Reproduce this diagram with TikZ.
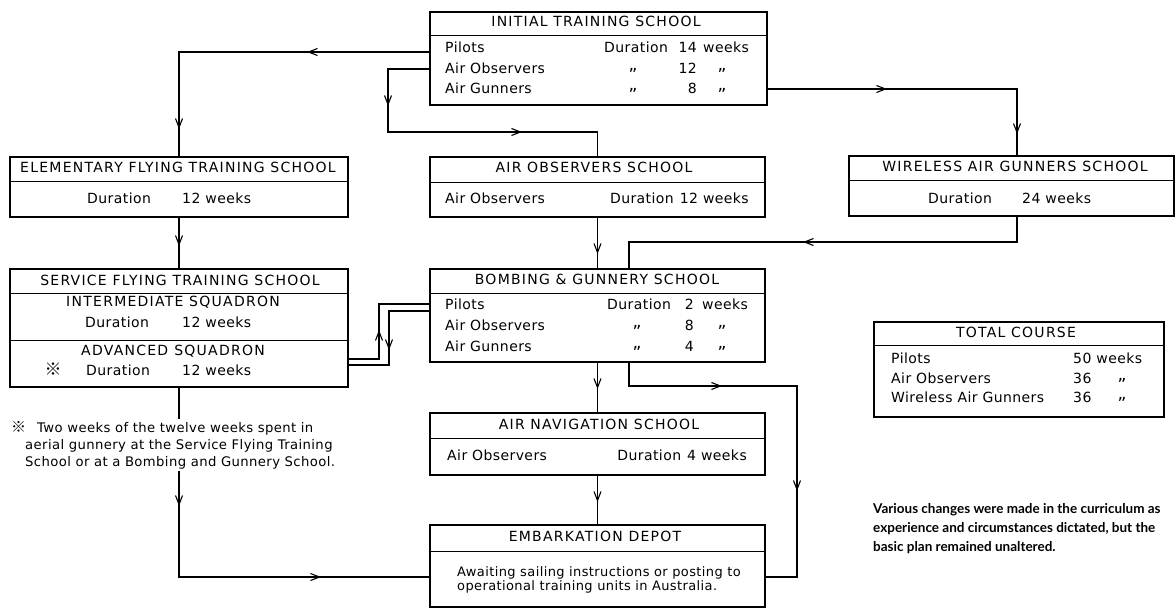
\documentclass[tikz,border=0pt]{standalone}
\usepackage{fontspec}
\setmainfont[LetterSpace=3]{DejaVu Sans}
\newfontfamily\hdfont[LetterSpace=9]{DejaVu Sans}
\newfontfamily\cjk{Noto Sans CJK JP}
\newfontfamily\notefont{Lato}
\usetikzlibrary{arrows.meta,decorations.markings}
\newcommand\dittomk{\raisebox{3pt}{\fontsize{17}{17}\selectfont „}}
\begin{document}
\begin{tikzpicture}[x=1pt,y=-1pt,
  font=\fontsize{14}{16}\selectfont,
  box/.style={draw, line width=1.4pt, anchor=north west, inner sep=0pt, outer sep=0pt},
  hl/.style={line width=0.9pt},
  conn/.style={line width=1.1pt},
  at1/.style={decoration={markings, mark=at position #1 with {\arrow{Straight Barb[length=9pt,width=7pt]}}}, postaction=decorate},
  at2/.style 2 args={decoration={markings, mark=at position #1 with {\arrow{Straight Barb[length=9pt,width=7pt]}}, mark=at position #2 with {\arrow{Straight Barb[length=9pt,width=7pt]}}}, postaction=decorate},
  tw/.style={inner sep=0pt, anchor=mid west},
  tc/.style={inner sep=0pt, anchor=mid},
  te/.style={inner sep=0pt, anchor=mid east},
  hd/.style={inner sep=0pt, anchor=mid, font=\hdfont\fontsize{14}{16}\selectfont},
]
\useasboundingbox[fill=white] (0,0) rectangle (1176,612);

% ---------- boxes ----------
\node[box, minimum width=337pt, minimum height=93pt] (its) at (430,12) {};
\node[box, minimum width=338pt, minimum height=60pt] (efts) at (10,157) {};
\node[box, minimum width=335pt, minimum height=60pt] (aos) at (430,157) {};
\node[box, minimum width=325pt, minimum height=60pt] (wags) at (849,156) {};
\node[box, minimum width=338pt, minimum height=118pt] (sfts) at (10,269) {};
\node[box, minimum width=335pt, minimum height=93pt] (bgs) at (430,269) {};
\node[box, minimum width=290pt, minimum height=95pt] (total) at (874,322) {};
\node[box, minimum width=335pt, minimum height=62pt] (ans) at (430,413) {};
\node[box, minimum width=335pt, minimum height=82pt] (ed) at (430,525) {};

% header rules
\draw[hl] ([yshift=-23pt]its.north west) -- ([yshift=-23pt]its.north east);
\draw[hl] ([yshift=-24pt]efts.north west) -- ([yshift=-24pt]efts.north east);
\draw[hl] ([yshift=-25pt]aos.north west) -- ([yshift=-25pt]aos.north east);
\draw[hl] ([yshift=-24pt]wags.north west) -- ([yshift=-24pt]wags.north east);
\draw[hl] ([yshift=-24pt]sfts.north west) -- ([yshift=-24pt]sfts.north east);
\draw[hl] ([yshift=-71pt]sfts.north west) -- ([yshift=-71pt]sfts.north east);
\draw[hl] ([yshift=-24pt]bgs.north west) -- ([yshift=-24pt]bgs.north east);
\draw[hl] ([yshift=-23pt]total.north west) -- ([yshift=-23pt]total.north east);
\draw[hl] ([yshift=-25pt]ans.north west) -- ([yshift=-25pt]ans.north east);
\draw[hl] ([yshift=-26pt]ed.north west) -- ([yshift=-26pt]ed.north east);

% ---------- texts ----------
% Initial Training School
\node[hd] (itsh) at (596,24) {INITIAL TRAINING SCHOOL};
\node[tw] (its1a) at (445,50) {Pilots};
\node[tw] (its1b) at (604,50) {Duration};
\node[te] (its1c) at (697,50) {14};
\node[tw] (its1d) at (703,50) {weeks};
\node[tw] (its2a) at (445,71) {Air Observers};
\node[tc] (its2b) at (633,71) {\dittomk};
\node[te] (its2c) at (697,71) {12};
\node[tc] (its2d) at (722,71) {\dittomk};
\node[tw] (its3a) at (445,91) {Air Gunners};
\node[tc] (its3b) at (633,91) {\dittomk};
\node[te] (its3c) at (697,91) {8};
\node[tc] (its3d) at (722,91) {\dittomk};

% Elementary Flying Training School
\node[hd] (eftsh) at (178,170) {ELEMENTARY FLYING TRAINING SCHOOL};
\node[tw] (efts1) at (87,201) {Duration};
\node[tw] (efts2) at (182,201) {12\hspace{5pt}weeks};

% Air Observers School
\node[hd] (aosh) at (594,170) {AIR OBSERVERS SCHOOL};
\node[tw] (aos1) at (445,201) {Air Observers};
\node[te] (aos2) at (749,201) {Duration\hspace{6pt}12\hspace{5pt}weeks};

% Wireless Air Gunners School
\node[hd] (wagsh) at (1015,169) {WIRELESS AIR GUNNERS SCHOOL};
\node[tw] (wags1) at (928,201) {Duration};
\node[tw] (wags2) at (1022,201) {24\hspace{5pt}weeks};

% Service Flying Training School
\node[hd] (sftsh) at (180,283) {SERVICE FLYING TRAINING SCHOOL};
\node[hd] (sfts1) at (173,304) {INTERMEDIATE SQUADRON};
\node[tw] (sfts2) at (85,325) {Duration};
\node[tw] (sfts3) at (182,325) {12\hspace{5pt}weeks};
\node[hd] (sfts4) at (173,353) {ADVANCED\hspace{6pt}SQUADRON};
\node[tc] (sfts5) at (53,373) {\cjk\fontsize{17}{17}\selectfont ※};
\node[tw] (sfts6) at (86,373) {Duration};
\node[tw] (sfts7) at (182,373) {12\hspace{5pt}weeks};

% Bombing & Gunnery School
\node[hd] (bgsh) at (597,282) {BOMBING \& GUNNERY SCHOOL};
\node[tw] (bgs1a) at (445,307) {Pilots};
\node[tw] (bgs1b) at (607,307) {Duration};
\node[te] (bgs1c) at (694,307) {2};
\node[tw] (bgs1d) at (702,307) {weeks};
\node[tw] (bgs2a) at (445,328) {Air Observers};
\node[tc] (bgs2b) at (637,328) {\dittomk};
\node[te] (bgs2c) at (694,328) {8};
\node[tc] (bgs2d) at (722,328) {\dittomk};
\node[tw] (bgs3a) at (445,349) {Air Gunners};
\node[tc] (bgs3b) at (637,349) {\dittomk};
\node[te] (bgs3c) at (694,349) {4};
\node[tc] (bgs3d) at (722,349) {\dittomk};

% Total course
\node[hd] (toth) at (1016,335) {TOTAL COURSE};
\node[tw] (tot1a) at (891,361) {Pilots};
\node[tw] (tot1b) at (1073,361) {50\hspace{5pt}weeks};
\node[tw] (tot2a) at (891,381) {Air Observers};
\node[tw] (tot2b) at (1073,381) {36};
\node[tc] (tot2c) at (1122,381) {\dittomk};
\node[tw] (tot3a) at (891,400) {Wireless Air Gunners};
\node[tw] (tot3b) at (1073,400) {36};
\node[tc] (tot3c) at (1122,400) {\dittomk};

% Air Navigation School
\node[hd] (ansh) at (599,427) {AIR NAVIGATION SCHOOL};
\node[tw] (ans1) at (447,458) {Air Observers};
\node[te] (ans2) at (747,458) {Duration\hspace{6pt}4\hspace{5pt}weeks};

% Embarkation Depot
\node[hd] (edh) at (595,539) {EMBARKATION DEPOT};
\node[inner sep=0pt, anchor=north west, align=left, font=\fontsize{13}{14.5}\selectfont] (ed1) at (457,566)
  {Awaiting sailing instructions or posting to\\operational training units in Australia.};

% ---------- connectors ----------
\coordinate (c1) at (179,52);
\coordinate (c2) at (388,69);
\coordinate (c3) at (388,132);
\coordinate (c4) at (597.5,132);
\coordinate (c5) at (1017,89);
\coordinate (c6) at (1017,242);
\coordinate (c7) at (629,242);
\coordinate (c8) at (379,359);
\coordinate (c9) at (379,304);
\coordinate (c10) at (389,311);
\coordinate (c11) at (389,365);
\coordinate (c12) at (629,386);
\coordinate (c13) at (797,386);
\coordinate (c14) at (797,577);
\coordinate (c15) at (179,577);

\draw[conn, at2={123pt}{328pt}] (its.west |- c1) -- (c1) -- (efts.north);
\draw[conn, at2={79pt}{239pt}] (its.west |- c2) -- (c2) -- (c3) -- (c4) -- (c4 |- aos.north);
\draw[conn, at2={120pt}{295pt}] (its.east |- c5) -- (c5) -- (c5 |- wags.north);
\draw[conn, at1={29pt}] (efts.south) -- (sfts.north);
\draw[conn, at1={37pt}] (aos.south) -- (bgs.north);
\draw[conn, at1={240pt}] (c6 |- wags.south) -- (c6) -- (c7) -- (c7 |- bgs.north);
\draw[conn, at1={60pt}] (sfts.east |- c8) -- (c8) -- (c9) -- (bgs.west |- c9);
\draw[conn, at1={80pt}] (bgs.west |- c10) -- (c10) -- (c11) -- (sfts.east |- c11);
\draw[conn, at1={27pt}] (bgs.south) -- (ans.north);
\draw[conn, at1={27pt}] (ans.south) -- (ed.north);
\draw[conn, at2={117pt}{297pt}] (c12 |- bgs.south) -- (c12) -- (c13) -- (c14) -- (ed.east |- c14);
\draw[conn, at2={119pt}{332pt}] (sfts.south) -- (c15) -- (ed.west |- c15);

% footnote (over the connector)
\node[fill=white, inner sep=2pt, anchor=north west, align=left, font=\fontsize{13.2}{17}\selectfont] (fn) at (9,419)
  {{\cjk\fontsize{15}{15}\selectfont ※}\hspace{11pt}Two weeks of the twelve weeks spent in\\
   \hspace{14pt}aerial gunnery at the Service Flying Training\\
   \hspace{14pt}School or at a Bombing and Gunnery School.};

% note
\node[inner sep=0pt, anchor=north west, align=left, font=\notefont\bfseries\fontsize{13.5}{19}\selectfont] (note) at (873,503)
  {Various changes were made in the curriculum as\\
   experience and circumstances dictated, but the\\
   basic plan remained unaltered.};
\end{tikzpicture}
\end{document}
